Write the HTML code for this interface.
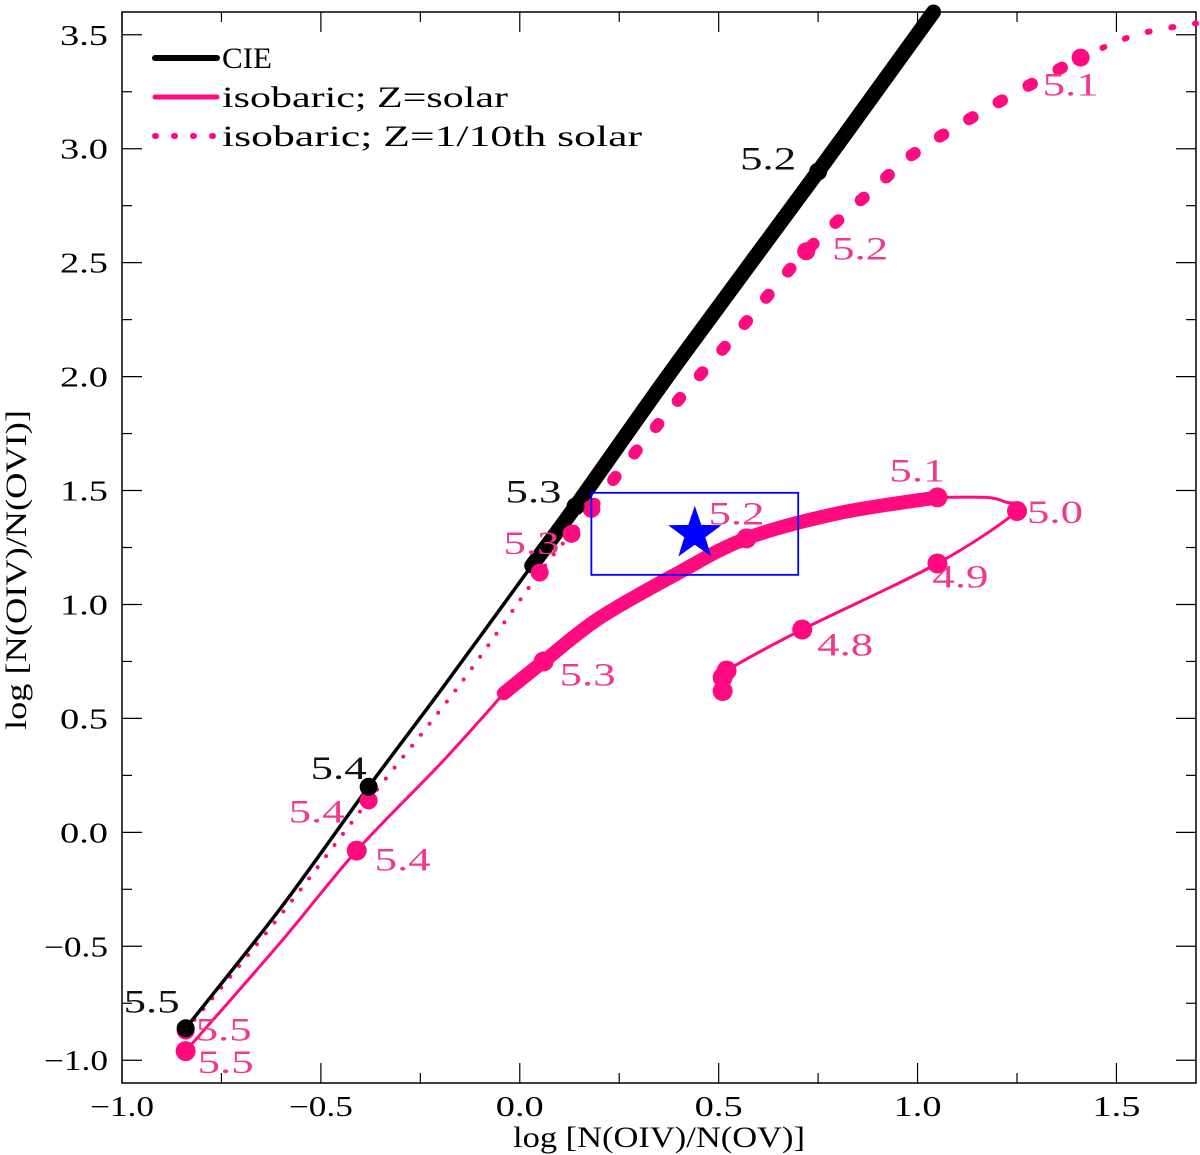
<!DOCTYPE html>
<html><head><meta charset="utf-8"><style>
html,body{margin:0;padding:0;background:#fff;}
svg{display:block;font-family:"Liberation Serif",serif;}
</style></head><body>
<svg id="chart" width="1200" height="1155" viewBox="0 0 1200 1155">
<g id="axes"></g>
<g id="series"></g>
<g id="legend"></g>
</svg>
<script>
const xTicks=[-1.0,-0.5,0.0,0.5,1.0,1.5];
const xTickLabels=["\u22121.0","\u22120.5","0.0","0.5","1.0","1.5"];
const yTicks=[-1.0,-0.5,0.0,0.5,1.0,1.5,2.0,2.5,3.0,3.5];
const yTickLabels=["\u22121.0","\u22120.5","0.0","0.5","1.0","1.5","2.0","2.5","3.0","3.5"];
const cieThinX=[-0.84,-0.6,-0.38,-0.2,0.03];
const cieThinY=[-0.86,-0.33,0.20,0.62,1.17];
const cieThickX=[0.03,0.14,0.4,0.75,1.04];
const cieThickY=[1.17,1.43,2.07,2.90,3.60];
const ciePtX=[-0.84,-0.38,0.14,0.75];
const ciePtY=[-0.86,0.20,1.43,2.90];
const cieLbl=["5.5","5.4","5.3","5.2"];
const solThinAX=[-0.84,-0.6,-0.41,-0.2,-0.04];
const solThinAY=[-0.96,-0.48,-0.08,0.30,0.61];
const solThickX=[-0.04,0.06,0.2,0.4,0.57,0.8,1.05];
const solThickY=[0.61,0.75,0.94,1.14,1.29,1.40,1.47];
const solThinBX=[1.05,1.17,1.22,1.25,1.05,0.71,0.52,0.51,0.51];
const solThinBY=[1.47,1.47,1.45,1.41,1.18,0.89,0.71,0.68,0.62];
const solPtX=[-0.84,-0.41,0.06,0.57,1.05,1.25,1.05,0.71,0.52,0.51,0.51];
const solPtY=[-0.96,-0.08,0.75,1.29,1.47,1.41,1.18,0.89,0.71,0.68,0.62];
const solLbl=["5.5","5.4","5.3","5.2","5.1","5.0","4.9","4.8","","",""];
const lowThinX=[-0.84,-0.6,-0.38,-0.15,0.05,0.13];
const lowThinY=[-0.87,-0.36,0.14,0.65,1.14,1.31];
const lowThickX=[0.13,0.25,0.4,0.55,0.72,0.9,1.0,1.2,1.41];
const lowThickY=[1.31,1.58,1.90,2.20,2.55,2.84,2.99,3.20,3.40];
const lowTailX=[1.41,1.55,1.7];
const lowTailY=[3.40,3.50,3.55];
const lowPtX=[-0.84,-0.38,0.05,0.13,0.18,0.72,1.41];
const lowPtY=[-0.87,0.14,1.14,1.31,1.42,2.55,3.40];
const lowLbl=["5.5","5.4","","5.3","","5.2","5.1"];
const boxX=[0.18,0.70];
const boxY=[1.13,1.49];
const starX=[0.44];
const starY=[1.31];

const L=122,R=1196,T=12,B=1083;
const X0=-1.0,X1=1.7,Y0=-1.1,Y1=3.6;
const sx=v=>L+(v-X0)/(X1-X0)*(R-L);
const sy=v=>B-(v-Y0)/(Y1-Y0)*(B-T);
const NS="http://www.w3.org/2000/svg";
const PINK="#ff0a7f", LPINK="#f0388f";
function mk(tag,attrs,parent){const e=document.createElementNS(NS,tag);for(const k in attrs)e.setAttribute(k,attrs[k]);parent.appendChild(e);return e;}
const axes=document.getElementById('axes'),ser=document.getElementById('series'),leg=document.getElementById('legend');

const frame=mk('rect',{x:L,y:T,width:R-L,height:B-T,fill:'none',stroke:'#000','stroke-width':1.5},axes);


for(let v=-1.0;v<=1.7001;v+=0.25){
  const big=Math.abs(v*2-Math.round(v*2))<1e-6, len=big?20:10, x=sx(v);
  const t1=mk('line',{x1:x,y1:B,x2:x,y2:B-len,stroke:'#000','stroke-width':1.2},axes);
  
  
  const t2=mk('line',{x1:x,y1:T,x2:x,y2:T+len,stroke:'#000','stroke-width':1.2},axes);
  
  
}
for(let v=-1.0;v<=3.6001;v+=0.25){
  const big=Math.abs(v*2-Math.round(v*2))<1e-6, len=big?20:10, y=sy(v);
  const t1=mk('line',{x1:L,y1:y,x2:L+len,y2:y,stroke:'#000','stroke-width':1.2},axes);
  
  
  const t2=mk('line',{x1:R,y1:y,x2:R-len,y2:y,stroke:'#000','stroke-width':1.2},axes);
  
  
}
xTicks.forEach((v,i)=>{const w=xTickLabels[i].length*16;const t=mk('text',{x:sx(v)-w/2,y:B+33,'font-size':28,textLength:w,lengthAdjust:'spacingAndGlyphs'},axes);t.textContent=xTickLabels[i];

});
yTicks.forEach((v,i)=>{const w=yTickLabels[i].length*16;const t=mk('text',{x:L-14-w,y:sy(v)+10,'font-size':28,textLength:w,lengthAdjust:'spacingAndGlyphs'},axes);t.textContent=yTickLabels[i];

});
const xt=mk('text',{x:513,y:1147,'font-size':30,textLength:292,lengthAdjust:'spacingAndGlyphs'},axes);xt.textContent="log [N(OIV)/N(OV)]";


const yt=mk('text',{x:0,y:0,'font-size':30,textLength:320,lengthAdjust:'spacingAndGlyphs',transform:`translate(26,730) rotate(-90)`},axes);yt.textContent="log [N(OIV)/N(OVI)]";



function smooth(xs,ys){const P=xs.map((v,i)=>[sx(v),sy(ys[i])]);let d='M'+P[0][0].toFixed(1)+','+P[0][1].toFixed(1);
for(let i=0;i<P.length-1;i++){const p0=P[Math.max(0,i-1)],p1=P[i],p2=P[i+1],p3=P[Math.min(P.length-1,i+2)];
const c1=[p1[0]+(p2[0]-p0[0])/6,p1[1]+(p2[1]-p0[1])/6],c2=[p2[0]-(p3[0]-p1[0])/6,p2[1]-(p3[1]-p1[1])/6];
d+='C'+c1.map(n=>n.toFixed(1)).join(',')+' '+c2.map(n=>n.toFixed(1)).join(',')+' '+p2[0].toFixed(1)+','+p2[1].toFixed(1);}return d;}
function path(xs,ys,attrs,name){
const p=mk('path',Object.assign({d:smooth(xs,ys),fill:'none','stroke-linejoin':'round'},attrs),ser);

return p;}
path(lowThinX,lowThinY,{stroke:PINK,'stroke-width':4,'stroke-dasharray':'0 14','stroke-linecap':'round'},'lowz-line-thin');
path(lowThickX,lowThickY,{stroke:PINK,'stroke-width':12,'stroke-dasharray':'4 30','stroke-linecap':'round'},'lowz-line-thick');
path(lowTailX,lowTailY,{stroke:PINK,'stroke-width':6,'stroke-dasharray':'2 22','stroke-linecap':'round'},'lowz-line-tail');
path(solThinAX,solThinAY,{stroke:PINK,'stroke-width':3},'solar-line-thin');
path(solThickX,solThickY,{stroke:PINK,'stroke-width':14,'stroke-linecap':'round'},'solar-line-thick');
path(solThinBX,solThinBY,{stroke:PINK,'stroke-width':3},'solar-line-return');
path(cieThinX,cieThinY,{stroke:'#000','stroke-width':3.5},'cie-line-thin');
path(cieThickX,cieThickY,{stroke:'#000','stroke-width':15,'stroke-linecap':'round'},'cie-line-thick');

function pts(xs,ys,r,col,name){xs.forEach((v,i)=>{const c=mk('circle',{cx:sx(v),cy:sy(ys[i]),r:r,fill:col},ser);

});}
pts(lowPtX,lowPtY,9,PINK,'lowz-point');
pts(solPtX,solPtY,10,PINK,'solar-point');
pts(ciePtX,ciePtY,9,'#000','cie-point');

function lbl(xs,ys,ls,dx,dy,col,name){xs.forEach((v,i)=>{if(!ls[i])return;const d=Array.isArray(dx)?dx[i]:dx,e=Array.isArray(dy)?dy[i]:dy;
const t=mk('text',{x:sx(v)+d,y:sy(ys[i])+e,'font-size':33,fill:col,textLength:56,lengthAdjust:'spacingAndGlyphs'},ser);t.textContent=ls[i];

});}
lbl(ciePtX,ciePtY,cieLbl,[-62,-58,-70,-78],[-16,-8,-4,-2],'#111','cie-label');
lbl(solPtX,solPtY,solLbl,[12,18,16,-38,-48,10,-5,15,0,0,0],[22,20,24,-14,-16,12,24,26,0,0,0],LPINK,'solar-label');
lbl(lowPtX,lowPtY,lowLbl,[10,-80,0,-68,0,26,-38],[10,22,0,20,0,8,38],LPINK,'lowz-label');

const bx=mk('rect',{x:sx(boxX[0]),y:sy(boxY[1]),width:sx(boxX[1])-sx(boxX[0]),height:sy(boxY[0])-sy(boxY[1]),fill:'none',stroke:'#0000ff','stroke-width':1.8},ser);


(function(){const cx=sx(starX[0]),cy=sy(starY[0]),ro=28,ri=11;let d='';for(let k=0;k<10;k++){const r=k%2?ri:ro,a=-Math.PI/2+k*Math.PI/5;d+=(k?'L':'M')+(cx+r*Math.cos(a)).toFixed(1)+','+(cy+r*Math.sin(a)).toFixed(1);}
const s=mk('path',{d:d+'Z',fill:'#0000ff'},ser);

})();

const items=[["CIE",'#000','none',6,50],["isobaric; Z=solar",PINK,'none',5,286],["isobaric; Z=1/10th solar",PINK,'1 18',6,420]];
items.forEach((it,i)=>{const y=58+i*39;
const ln=mk('line',{x1:155,y1:y,x2:217,y2:y,stroke:it[1],'stroke-width':it[3],'stroke-linecap':'round','stroke-dasharray':it[2]},leg);


const t=mk('text',{x:222,y:y+10,'font-size':30,textLength:it[4],lengthAdjust:'spacingAndGlyphs'},leg);t.textContent=it[0];

});
</script>
</body></html>
